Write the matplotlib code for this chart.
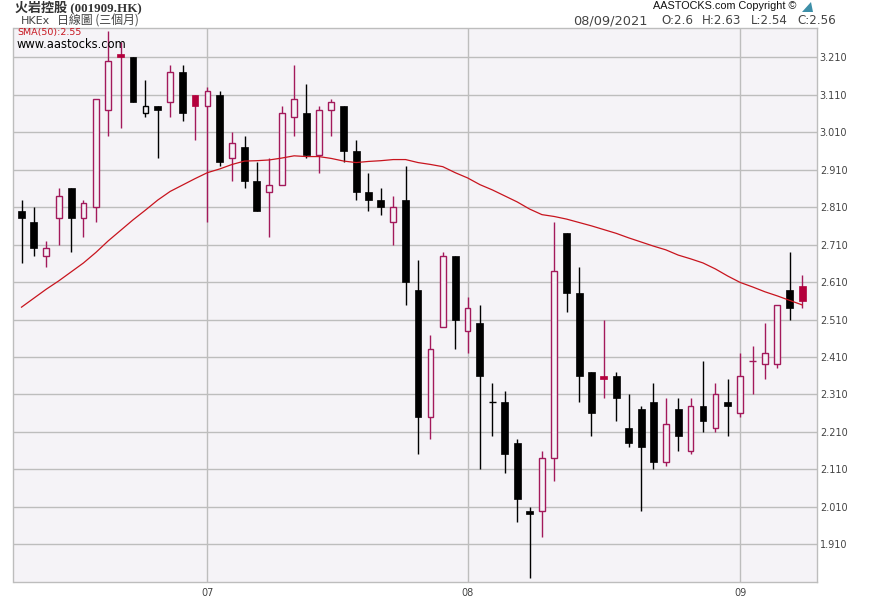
import numpy as np
import matplotlib
matplotlib.use('Agg')
import matplotlib.pyplot as plt
from matplotlib.patches import Polygon

UP = '#A3195B'
UPFILL = '#B4003C'
DOWN = '#000000'
GRID = '#BDBDBD'
BG = '#F5F3F7'

opens = [2.80,2.77,2.68,2.78,2.86,2.78,2.81,3.07,3.22,3.21,3.06,3.08,3.09,3.17,3.11,3.08,
         3.11,2.94,2.97,2.88,2.85,2.87,3.05,3.06,2.95,3.07,3.08,2.96,2.85,2.83,2.77,2.83,
         2.59,2.25,2.49,2.68,2.48,2.50,2.29,2.29,2.18,2.00,2.00,2.14,2.74,2.58,2.37,2.36,
         2.36,2.22,2.27,2.29,2.13,2.27,2.16,2.28,2.22,2.29,2.26,2.40,2.39,2.39,2.59,2.60]
highs = [2.83,2.81,2.72,2.86,2.86,2.83,3.10,3.28,3.25,3.21,3.15,3.08,3.19,3.19,3.11,3.13,
         3.12,3.01,3.00,2.93,2.94,3.08,3.19,3.14,3.08,3.10,3.08,2.99,2.90,2.86,2.84,2.92,
         2.67,2.47,2.69,2.68,2.57,2.55,2.34,2.32,2.19,2.01,2.16,2.77,2.74,2.65,2.37,2.51,
         2.37,2.31,2.28,2.34,2.30,2.30,2.30,2.40,2.34,2.35,2.42,2.44,2.50,2.55,2.69,2.63]
lows = [2.66,2.68,2.65,2.71,2.69,2.73,2.77,3.00,3.02,3.09,3.05,2.94,3.05,3.04,2.99,2.77,
        2.92,2.88,2.86,2.80,2.73,2.87,3.00,2.94,2.90,3.00,2.93,2.83,2.80,2.79,2.71,2.55,
        2.15,2.19,2.49,2.43,2.42,2.11,2.20,2.10,1.97,1.82,1.93,2.08,2.53,2.29,2.20,2.30,
        2.24,2.17,2.00,2.11,2.12,2.16,2.15,2.21,2.21,2.20,2.25,2.31,2.35,2.38,2.51,2.54]
closes = [2.78,2.70,2.70,2.84,2.78,2.82,3.10,3.20,3.21,3.09,3.08,3.07,3.17,3.06,3.08,3.12,
          2.93,2.98,2.88,2.80,2.87,3.06,3.10,2.95,3.07,3.09,2.96,2.85,2.83,2.81,2.81,2.61,
          2.25,2.43,2.68,2.51,2.54,2.36,2.29,2.15,2.03,1.99,2.14,2.64,2.58,2.36,2.26,2.35,
          2.30,2.18,2.17,2.13,2.23,2.20,2.28,2.24,2.31,2.28,2.36,2.40,2.42,2.55,2.54,2.56]
sma50 = [2.543,2.567,2.591,2.613,2.637,2.661,2.689,2.720,2.748,2.776,2.802,2.829,2.852,2.869,2.886,2.902,
         2.912,2.924,2.933,2.934,2.936,2.941,2.947,2.945,2.945,2.940,2.933,2.929,2.932,2.934,2.937,2.937,
         2.929,2.924,2.918,2.902,2.888,2.870,2.856,2.840,2.824,2.805,2.790,2.785,2.778,2.769,2.760,2.750,
         2.740,2.728,2.717,2.706,2.696,2.682,2.672,2.661,2.645,2.626,2.609,2.597,2.584,2.573,2.561,2.549]

month_pos = [15, 36, 58]
month_labels = ['07', '08', '09']
price_ticks = [1.91,2.01,2.11,2.21,2.31,2.41,2.51,2.61,2.71,2.81,2.91,3.01,3.11,3.21]

W = 870
H = 600
fig = plt.figure(figsize=(W/100, H/100), dpi=100, facecolor='white')
ax = fig.add_axes([13.5/W, 1-582.3/H, (817-13.5)/W, (582.3-28.3)/H], facecolor=BG)

x = np.arange(len(opens))
for i in x:
    o, h, l, c = opens[i], highs[i], lows[i], closes[i]
    rising = i > 0 and c >= closes[i-1]
    col = UP if rising else DOWN
    ax.vlines(i, l, h, color=col, lw=1.0, zorder=3)
    top = max(o, c)
    bot = min(o, c)
    if c > o:
        ax.bar(i, top-bot, 0.46, bottom=bot, facecolor=BG, edgecolor=col, lw=1.0, zorder=4)
    elif c == o:
        ax.hlines(o, i-0.3, i+0.3, color=col, lw=1.0, zorder=4)
    else:
        fill = UPFILL if rising else DOWN
        ax.bar(i, top-bot, 0.56, bottom=bot, facecolor=fill, edgecolor=fill, lw=0.5, zorder=4)

ax.plot(x, sma50, color='#C8141E', lw=0.9, zorder=5)

ax.set_xlim(-0.646, 64.2)
ax.set_ylim(3.21-(582.3-57.3)/374.6, 3.21+(57.3-28.3)/374.6)
ax.set_xticks(month_pos)
ax.set_xticklabels(month_labels)
ax.set_yticks(price_ticks)
ax.set_yticklabels(['%.3f' % p for p in price_ticks])
ax.yaxis.tick_right()
ax.grid(True, color=GRID, lw=1.0, zorder=1)
ax.set_axisbelow(True)
ax.tick_params(axis='both', length=0, labelsize=7, labelcolor='#444444')
ax.tick_params(axis='x', pad=4)
ax.tick_params(axis='y', pad=2)
for s in ax.spines.values():
    s.set_color(GRID)
    s.set_linewidth(1.0)

def px_text(px, py, s, **kw):
    fig.text(px/W, 1-py/H, s, va='center', **kw)

title_font = ['Liberation Serif', 'Noto Sans CJK TC']
px_text(15, 7, '火岩控股 (001909.HK)', family=title_font, fontsize=9.4, fontweight='bold', color='#333333')
px_text(21, 20.5, 'HKEx', family='DejaVu Sans', fontsize=8, color='#444444')
px_text(57, 20.5, '日線圖 (三個月)', family=['Noto Sans CJK TC', 'DejaVu Sans'], fontsize=8.6, color='#444444')
px_text(17, 32, 'SMA(50):2.55', family='DejaVu Sans', fontsize=6.8, color='#C8141E')
px_text(17, 45, 'www.aastocks.com', family='DejaVu Sans', fontsize=8.3, color='#000000')
px_text(653, 6, 'AASTOCKS.com Copyright ©', family='Liberation Sans', fontsize=7.8, color='#111111')
px_text(573, 20.5, '08/09/2021', family='DejaVu Sans', fontsize=9.3, color='#444444')
px_text(661, 20.5, 'O:2.6', family='DejaVu Sans', fontsize=8.6, color='#444444')
px_text(702, 20.5, 'H:2.63', family='DejaVu Sans', fontsize=8.6, color='#444444')
px_text(751, 20.5, 'L:2.54', family='DejaVu Sans', fontsize=8.6, color='#444444')
px_text(797, 20.5, 'C:2.56', family='DejaVu Sans', fontsize=8.6, color='#444444')

# small logo next to the copyright line
logo = [[802/W, 1-12/H], [811/W, 1-2/H], [813/W, 1-12/H]]
fig.add_artist(Polygon(logo, closed=True, transform=fig.transFigure, facecolor='#3E8FA8', edgecolor='none'))

fig.savefig('out.png', dpi=100)
